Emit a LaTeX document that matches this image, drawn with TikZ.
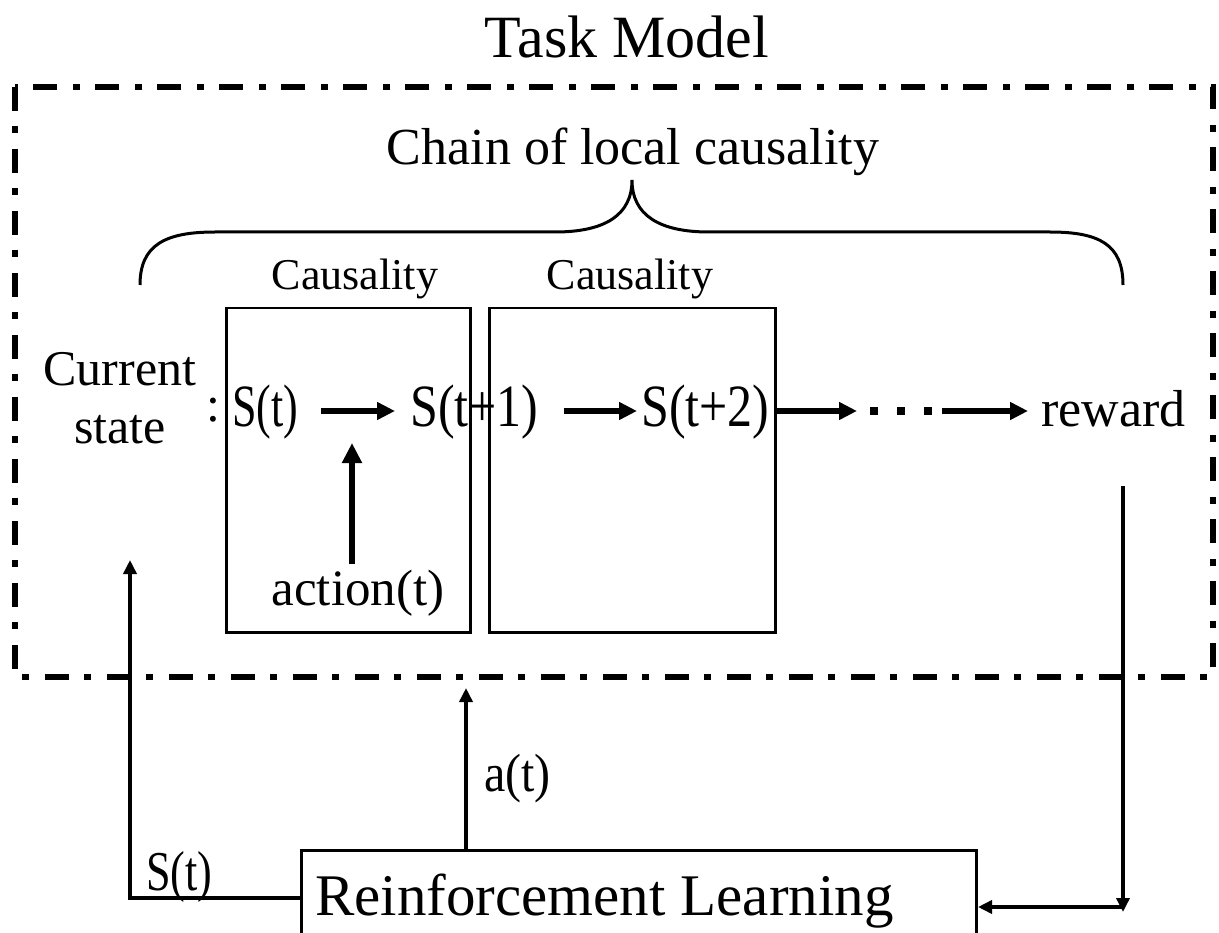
\documentclass[tikz,border=0pt]{standalone}
\usepackage{fontspec}
\setmainfont{Liberation Serif}
\usetikzlibrary{arrows.meta,positioning}
\newcommand{\fsz}[1]{\fontsize{#1}{#1}\selectfont}
\newcommand{\tallbox}[2][1]{\scalebox{#1}[1.2]{#2}}

\begin{document}
\begin{tikzpicture}[x=1pt,y=-1pt,>={Triangle[length=18pt,width=17pt]}]
    \tikzstyle{chain}=[inner sep=0pt,text height=38pt,text depth=8pt,
    font=\fsz{50},anchor=base west]
    \tikzstyle{link}=[->,line width=5.5pt]
    \tikzstyle{fb}=[-{Triangle[length=14pt,width=13pt]},line width=4pt]
    \tikzstyle{cbox}=[draw,line width=2.5pt,anchor=north west,
    minimum height=324pt]
    \tikzstyle{tmframe}=[line width=6pt,dash pattern=on 24pt off 15pt on
    7pt off 16pt]

    \useasboundingbox (0,0) rectangle (1219,933);
    \clip (0,0) rectangle (1219,933);

    % task model frame
    \node[font=\fsz{60},anchor=base] (title) at (627,58) {Task Model};
    \draw[tmframe] (15,87) rectangle (1213,677);
    \node[font=\fsz{52},anchor=base] (chainlbl) at (633,165)
    {Chain of local causality};
    \draw[line width=3pt] (140,285) .. controls (140,245) and (165,232)
    .. (215,232) -- (555,232) .. controls (605,232) and (632,215) ..
    (632,180) .. controls (632,215) and (659,232) .. (709,232) --
    (1050,232) .. controls (1100,232) and (1123,245) .. (1123,285);

    \node[cbox,minimum width=244pt] (box1) at (225,307) {};
    \node[font=\fsz{44},anchor=base] (caus1) at (355,290) {Causality};
    \node[cbox,minimum width=286pt] (box2) at (488,307) {};
    \node[font=\fsz{44},anchor=base] (caus2) at (630,290) {Causality};

    \node[font=\fsz{50},anchor=base] (cur) at (120,385) {Current};
    \node[font=\fsz{50},anchor=base] (curst) at (120,443) {state};
    \node[font=\fsz{50},anchor=base,inner sep=0pt] (colon) at (213,421) {:};

    % chain of states
    \node[chain] (s0) at (232,426) {\tallbox[0.88]{S(t)}};
    \node[chain] (s1) at (410,426) {\tallbox{S(t+1)}};
    \node[chain] (s2) at (641,426) {\tallbox{S(t+2)}};
    \node[inner sep=0pt,minimum width=62pt,minimum height=8pt,anchor=west]
    (dots) at (870,411) {};
    \node[chain,font=\fsz{52}] (rew) at (1041,426) {reward};
    \draw[link,shorten <=23pt,shorten >=15pt] (s0) -- (s1);
    \draw[link,shorten <=25pt,shorten >=4pt] (s1) -- (s2);
    \draw[link,shorten <=5pt,shorten >=13pt] (s2) -- (dots);
    \draw[line width=8pt,dash pattern=on 8pt off 19pt] (dots.west) --
    (dots.east);
    \draw[link,shorten <=10pt,shorten >=13pt] (dots) -- (rew);

    \node[font=\fsz{51},anchor=base,inner sep=0pt] (act) at (358,605)
    {action(t)};
    \coordinate (acttip) at (352,443);
    \draw[->,line width=6.5pt,shorten <=5pt,>={Triangle[length=20pt,width=19pt]}]
    (act.north -| acttip) -- (acttip);

    % reinforcement learning loop
    \node[cbox,line width=3pt,minimum width=675pt,minimum height=120pt]
    (rl) at (300,849) {};
    \node[font=\fsz{59},anchor=base west,inner sep=0pt] (rltext) at
    (315,915) {Reinforcement Learning};

    \coordinate (atip) at (466,688);
    \draw[fb] (rl.north -| atip) -- (atip);
    \node[font=\fsz{48},anchor=base west,inner sep=0pt] (alabel) at
    (484,791) {\scalebox{1}[1.12]{a(t)}};

    \coordinate (stcorner) at (130,898);
    \coordinate (sttip) at (130,560);
    \draw[fb] (rl.west |- stcorner) -- (stcorner) -- (sttip);
    \node[font=\fsz{45},anchor=base west,inner sep=0pt] (stlabel) at
    (146,890) {\scalebox{0.98}[1.25]{S(t)}};

    \coordinate (rtop) at (1123,486);
    \coordinate (rbot) at (1123,912);
    \coordinate (rcorner) at (1123,907);
    \draw[fb] (rtop) -- (rbot);
    \draw[fb] (rcorner) -- (rl.east |- rcorner);
\end{tikzpicture}
\end{document}
